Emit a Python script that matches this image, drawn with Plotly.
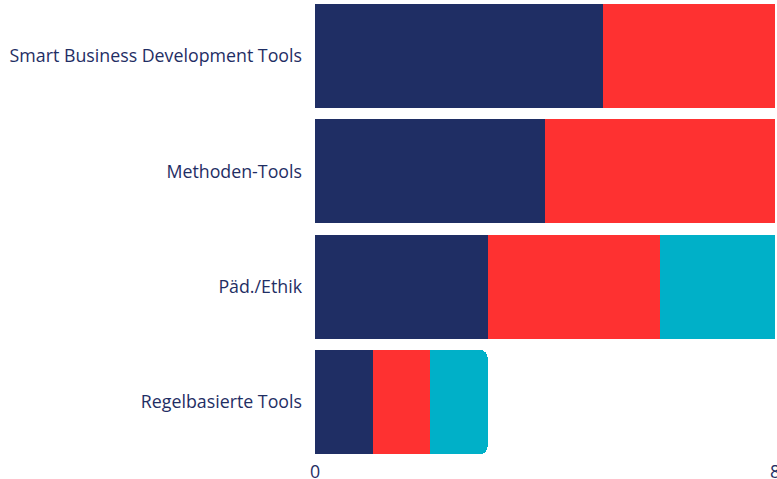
import plotly.graph_objects as go

categories = ["Smart Business Development Tools", "Methoden-Tools", "Päd./Ethik", "Regelbasierte Tools"]
series_names = ["A", "B", "C"]
navy_vals = [5, 4, 3, 1]
red_vals = [3, 4, 3, 1]
teal_vals = [0, 0, 2, 1]
colors = ["#1f2e64", "#fe3131", "#00b0c8"]
x_ticks = [0, 8]

# rows whose stacks reach the axis end are drawn square (clipped at the axis),
# the short stack is drawn on an overlaid axis so it can keep its rounded end
n_full = 3

fig = go.Figure()
for name, vals, col in zip(series_names, [navy_vals, red_vals, teal_vals], colors):
    fig.add_trace(go.Bar(
        y=categories[:n_full], x=vals[:n_full], orientation="h", name=name,
        marker=dict(color=col, line=dict(width=0), cornerradius=0),
        hoverinfo="skip", yaxis="y",
    ))
for name, vals, col in zip(series_names, [navy_vals, red_vals, teal_vals], colors):
    fig.add_trace(go.Bar(
        y=categories[n_full:], x=vals[n_full:], orientation="h", name=name,
        marker=dict(color=col, line=dict(width=0), cornerradius=7),
        hoverinfo="skip", yaxis="y2", showlegend=False,
    ))

yrange = [3.494, -0.486]
fig.update_layout(
    width=777, height=479,
    barmode="stack", bargap=0.1,
    showlegend=False,
    plot_bgcolor="white", paper_bgcolor="white",
    margin=dict(l=315, r=2, t=0, b=20),
    font=dict(family="Open Sans", size=17.8, color="#1f2e64"),
    xaxis=dict(range=[0, 8], tickvals=x_ticks, showgrid=True, gridcolor="#eeeeee",
               zeroline=False, showline=False, ticks="", fixedrange=True,
               ticklabeloverflow="allow", automargin=False),
    yaxis=dict(range=yrange, showgrid=False, ticks="", ticklabelstandoff=12,
               showline=False, zeroline=False, automargin=False,
               categoryorder="array", categoryarray=categories),
    yaxis2=dict(range=yrange, overlaying="y", showgrid=False, ticks="",
                showticklabels=False, showline=False, zeroline=False,
                categoryorder="array", categoryarray=categories),
)
fig.write_html("out.html")
